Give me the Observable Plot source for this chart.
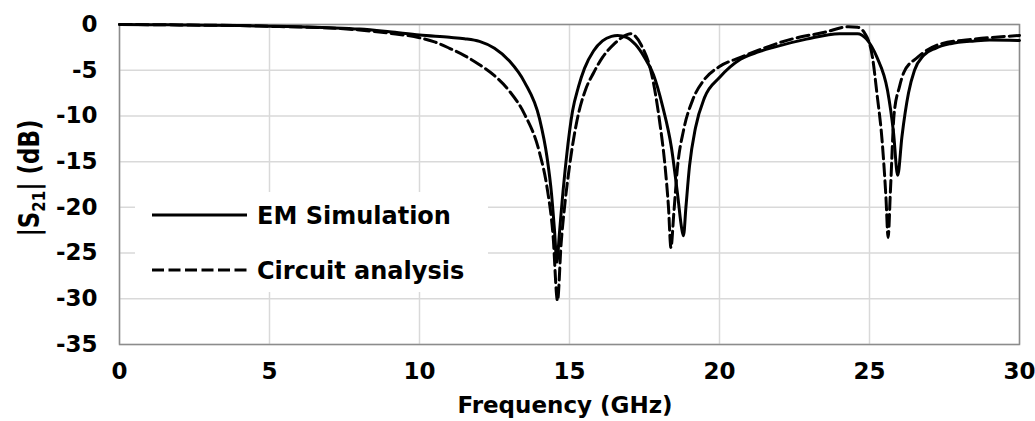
<!DOCTYPE html>
<html><head><meta charset="utf-8">
<script src="https://cdn.jsdelivr.net/npm/d3@7"></script>
<script src="https://cdn.jsdelivr.net/npm/@observablehq/plot@0.6"></script>
<style>body{margin:0;background:#fff;}</style>
</head><body><div id="chart"></div>
<script>
const seriesNames = ["EM Simulation", "Circuit analysis"];
const xTicks = [0, 5, 10, 15, 20, 25, 30];
const yTicks = [0, -5, -10, -15, -20, -25, -30, -35];

const emFreq = [0,1,2,3,4,5,6,7,8,9,10,11,11.5,12,12.5,13,13.5,14,14.25,14.4,14.5,14.58,14.66,14.75,14.9,15.1,15.3,15.5,15.8,16.1,16.4,16.6,16.9,17.2,17.5,17.8,18.1,18.4,18.6,18.75,18.8,18.88,19.0,19.2,19.5,20.0,20.7,21.3,21.8,22.9,24.0,24.6,24.9,25.25,25.6,25.8,25.94,26.08,26.3,26.5,26.8,27.2,27.7,28.5,29.0,30.0];
const emDb = [0,-0.02,-0.05,-0.08,-0.12,-0.18,-0.25,-0.35,-0.5,-0.8,-1.15,-1.4,-1.55,-1.85,-2.6,-4.0,-6.3,-10.3,-14.5,-18.5,-22.5,-26.0,-23.0,-19.5,-14.5,-9.5,-6.8,-4.8,-2.9,-1.8,-1.3,-1.2,-1.4,-2.2,-3.6,-5.5,-8.9,-13.5,-18.5,-22.5,-23.1,-20,-15.5,-11.3,-8.0,-5.8,-3.8,-3.0,-2.5,-1.6,-1.0,-1.0,-1.6,-3.6,-7.2,-11.8,-16.5,-12.3,-7.5,-5.0,-3.4,-2.6,-2.1,-1.8,-1.7,-1.75];

const circFreq = [0,1,2,3,4,5,6,7,8,9,10,10.5,11,11.5,12,12.5,13,13.5,14.0,14.25,14.45,14.6,14.72,14.85,15.0,15.25,15.55,15.8,16.1,16.5,16.8,17.03,17.2,17.4,17.75,18.0,18.2,18.3,18.38,18.48,18.6,18.8,19.1,19.5,20.0,20.7,21.3,22.4,23.5,24.3,24.6,24.85,25.1,25.25,25.42,25.55,25.62,25.7,25.82,26.0,26.15,26.6,27.4,28.5,30.0];
const circDb = [0,-0.02,-0.05,-0.08,-0.12,-0.2,-0.28,-0.38,-0.6,-0.95,-1.45,-1.9,-2.6,-3.4,-4.4,-5.6,-7.3,-9.8,-14.0,-17.8,-23,-30.2,-24,-19.5,-15.5,-10.5,-7.0,-5.3,-3.6,-2.1,-1.3,-1.0,-1.3,-2.3,-5.6,-10.5,-16.0,-20.0,-24.4,-20.5,-15.6,-11.6,-8.3,-6.0,-4.6,-3.6,-2.8,-1.6,-0.85,-0.25,-0.3,-1.0,-3.6,-7.6,-12.7,-19,-23.3,-18,-9.8,-6.8,-5.2,-3.6,-2.1,-1.6,-1.2];

const emData = emFreq.map((f, i) => ({f, db: emDb[i], s: seriesNames[0]}));
const circData = circFreq.map((f, i) => ({f, db: circDb[i], s: seriesNames[1]}));

const FONT = "'DejaVu Sans', Arial, sans-serif";
const W = 1035, H = 421, ML = 119, MR = 16, MT = 24, MB = 77;

const chart = Plot.plot({
  width: W, height: H,
  marginLeft: ML, marginRight: MR, marginTop: MT, marginBottom: MB,
  style: {fontFamily: FONT, fontSize: "23px", fontWeight: "bold", background: "#fff", color: "#000", overflow: "visible"},
  x: {domain: [0, 30]},
  y: {domain: [-35, 0]},
  marks: [
    Plot.gridX(xTicks, {stroke: "#d9d9d9", strokeOpacity: 1, strokeWidth: 1.5}),
    Plot.gridY(yTicks, {stroke: "#d9d9d9", strokeOpacity: 1, strokeWidth: 1.5}),
    Plot.frame({stroke: "#8c8c8c", strokeWidth: 1.5}),
    Plot.axisX(xTicks, {tickSize: 0, tickPadding: 18, label: null, fontSize: 23, fontWeight: "bold", tickFormat: d => String(d)}),
    Plot.axisY(yTicks, {tickSize: 0, tickPadding: 22, label: null, fontSize: 23, fontWeight: "bold", tickFormat: d => String(d)}),
    Plot.line(emData, {x: "f", y: "db", stroke: "#000", strokeWidth: 3, curve: "monotone-x"}),
    Plot.line(circData, {x: "f", y: "db", stroke: "#000", strokeWidth: 3, strokeDasharray: "12,5", curve: "monotone-x"})
  ]
});

const svg = d3.select(chart);
// axis titles
svg.append("text")
  .attr("x", 565).attr("y", 413)
  .attr("text-anchor", "middle")
  .attr("font-family", FONT).attr("font-size", 23).attr("font-weight", "bold").attr("fill", "#000")
  .text("Frequency (GHz)");

const yl = svg.append("text")
  .attr("transform", `translate(39,178) rotate(-90) scale(1,1.2)`)
  .attr("text-anchor", "middle")
  .attr("font-family", FONT).attr("font-size", 23).attr("font-weight", "bold").attr("fill", "#000");
yl.append("tspan").text("|S");
yl.append("tspan").attr("font-size", 15).attr("dy", 5).text("21");
yl.append("tspan").attr("dy", -5).text("| (dB)");

// legend
const lg = svg.append("g");
lg.append("rect").attr("x", 135).attr("y", 192).attr("width", 353).attr("height", 100).attr("fill", "#fff");
const legendRows = [{name: seriesNames[0], dash: null, y: 215}, {name: seriesNames[1], dash: "12,4.5", y: 270}];
for (const r of legendRows) {
  const ln = lg.append("line").attr("x1", 152).attr("x2", 247).attr("y1", r.y).attr("y2", r.y)
    .attr("stroke", "#000").attr("stroke-width", 3);
  if (r.dash) ln.attr("stroke-dasharray", r.dash);
  lg.append("text").attr("x", 257).attr("y", r.y).attr("dy", "0.36em")
    .attr("text-anchor", "start")
    .attr("font-family", FONT).attr("font-size", 24).attr("font-weight", "bold").attr("fill", "#000")
    .text(r.name);
}

document.getElementById("chart").appendChild(chart);
</script>
</body></html>
